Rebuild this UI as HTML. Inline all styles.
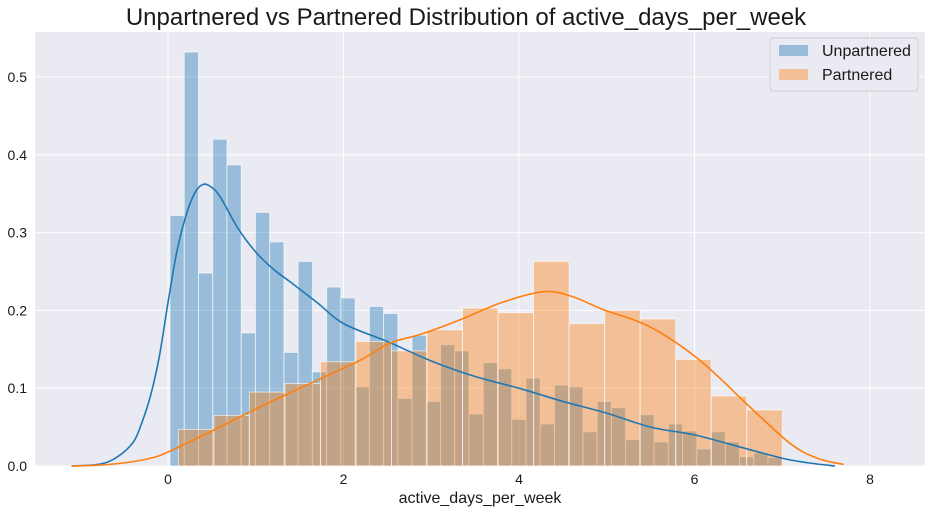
<!DOCTYPE html>
<html><head><meta charset="utf-8"><style>
html,body{margin:0;padding:0;background:#fff;}
svg{display:block;font-family:"Liberation Sans",Arial,sans-serif;}
</style></head><body>
<svg id="chart" width="933" height="513" viewBox="0 0 933 513" xmlns="http://www.w3.org/2000/svg">
<text x="466" y="25" font-size="24" text-anchor="middle" fill="#1a1a1a">Unpartnered vs Partnered Distribution of active_days_per_week</text>
<rect x="35" y="32" width="890" height="434" fill="#eaeaf2"/>
<g id="grid"></g><g id="bars"></g><g id="kde"></g><g id="ticks"></g>
<text x="480" y="503" font-size="16" text-anchor="middle" fill="#1a1a1a">active_days_per_week</text>
<g>
<rect x="770" y="38" width="148" height="53" rx="3" fill="#eaeaf2" stroke="#cccccc" stroke-width="1" opacity="0.9"/>
<rect x="779" y="45" width="29" height="11" fill="#1f77b4" fill-opacity="0.4"/>
<text x="822" y="56" font-size="16" fill="#1a1a1a">Unpartnered</text>
<rect x="779" y="69" width="29" height="11" fill="#ff7f0e" fill-opacity="0.4"/>
<text x="822" y="80" font-size="16" fill="#1a1a1a">Partnered</text>
</g>
</svg>
<script>
const blueRange=[0.023,7.0];
const blueHeights=[0.322,0.532,0.248,0.420,0.387,0.171,0.326,0.288,0.146,0.263,0.121,0.230,0.216,0.102,0.205,0.196,0.087,0.168,0.083,0.156,0.148,0.067,0.133,0.125,0.060,0.113,0.054,0.104,0.102,0.044,0.083,0.075,0.034,0.066,0.031,0.054,0.045,0.022,0.044,0.031,0.012,0.017,0.011];
const orangeRange=[0.118,7.0];
const orangeHeights=[0.047,0.065,0.095,0.106,0.134,0.160,0.148,0.175,0.203,0.197,0.263,0.183,0.200,0.189,0.137,0.090,0.072];
const blueKdeX=[-1.1,-0.8,-0.6,-0.4,-0.3,-0.2,-0.1,0,0.1,0.2,0.3,0.4,0.5,0.6,0.8,1.0,1.2,1.4,1.7,2.0,2.5,3.0,3.5,4.0,4.5,5.0,5.5,6.0,6.5,7.0,7.3,7.6];
const blueKdeY=[0,0.002,0.01,0.03,0.055,0.09,0.14,0.21,0.275,0.32,0.35,0.362,0.358,0.345,0.305,0.275,0.253,0.236,0.21,0.183,0.160,0.135,0.115,0.100,0.083,0.068,0.050,0.040,0.025,0.010,0.004,0];
const orangeKdeX=[-1.1,-0.8,-0.5,-0.2,0,0.5,1.05,1.6,2.19,2.53,2.9,3.33,3.8,4.28,4.6,4.96,5.49,6.06,6.63,7.09,7.4,7.7];
const orangeKdeY=[0,0.001,0.004,0.01,0.018,0.045,0.076,0.105,0.136,0.158,0.17,0.188,0.21,0.224,0.218,0.201,0.179,0.136,0.076,0.029,0.01,0.002];
const xTicks=[0,2,4,6,8];
const yTicks=[0,0.1,0.2,0.3,0.4,0.5];

const NS="http://www.w3.org/2000/svg";
const X=v=>168+v*87.75, Y=v=>466-v*778;
function mk(tag,attrs,parent){const e=document.createElementNS(NS,tag);for(const k in attrs)e.setAttribute(k,attrs[k]);parent.appendChild(e);return e;}
const grid=document.getElementById('grid'),bars=document.getElementById('bars'),kde=document.getElementById('kde'),ticks=document.getElementById('ticks');
xTicks.forEach(t=>{
 const l=mk('line',{x1:X(t),x2:X(t),y1:32,y2:466,stroke:'#fff','stroke-width':1},grid);
 
 
 const tx=mk('text',{x:X(t),y:484,'font-size':14,'text-anchor':'middle',fill:'#1a1a1a'},ticks);tx.textContent=t;
 
 
});
yTicks.forEach(t=>{
 const l=mk('line',{x1:35,x2:925,y1:Y(t),y2:Y(t),stroke:'#fff','stroke-width':1},grid);
 
 
 const tx=mk('text',{x:27,y:Y(t)+5,'font-size':14,'text-anchor':'end',fill:'#1a1a1a'},ticks);tx.textContent=t.toFixed(1);
 
 
});
function drawHist(range,h,color,name){
 const w=(range[1]-range[0])/h.length;
 h.forEach((v,i)=>{
  const x0=X(range[0]+i*w),x1=X(range[0]+(i+1)*w);
  const r=mk('rect',{x:x0,y:Y(v),width:x1-x0,height:Y(0)-Y(v),fill:color,'fill-opacity':0.4,stroke:'#fff','stroke-opacity':0.6,'stroke-width':1},bars);
  
  
 });
}
drawHist(blueRange,blueHeights,'#1f77b4','bar-unpartnered');
drawHist(orangeRange,orangeHeights,'#ff7f0e','bar-partnered');
function drawKde(xs,ys,color,name){
 const p=xs.map((x,i)=>[X(x),Y(ys[i])]);
 let d='M'+p[0][0]+','+p[0][1];
 for(let i=0;i<p.length-1;i++){
  const p0=p[Math.max(0,i-1)],p1=p[i],p2=p[i+1],p3=p[Math.min(p.length-1,i+2)];
  const c1=[p1[0]+(p2[0]-p0[0])/6,p1[1]+(p2[1]-p0[1])/6],c2=[p2[0]-(p3[0]-p1[0])/6,p2[1]-(p3[1]-p1[1])/6];
  d+=` C${c1[0]},${c1[1]} ${c2[0]},${c2[1]} ${p2[0]},${p2[1]}`;
 }
 const e=mk('path',{d:d,fill:'none',stroke:color,'stroke-width':1.6},kde);
 
 
}
drawKde(blueKdeX,blueKdeY,'#1f77b4','kde-unpartnered');
drawKde(orangeKdeX,orangeKdeY,'#ff7f0e','kde-partnered');
</script>
</body></html>
